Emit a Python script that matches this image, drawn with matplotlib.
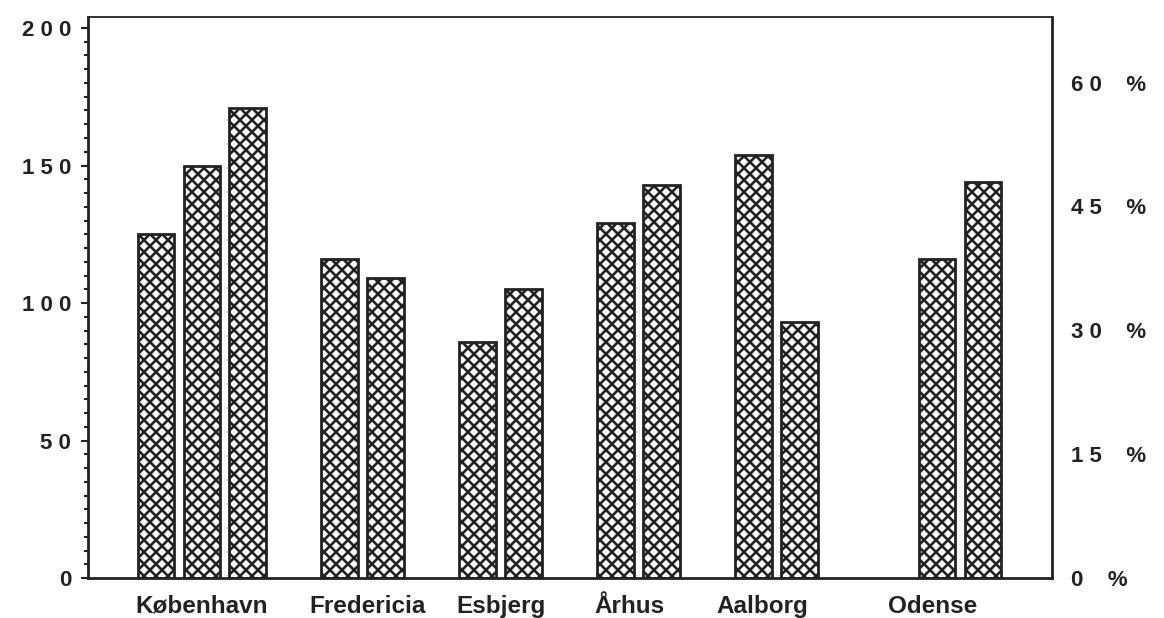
import numpy as np
import matplotlib
matplotlib.use('Agg')
import matplotlib.pyplot as plt

# bar heights, one slot per position (nan = empty slot)
values = [125, 150, 171, np.nan,
          116, 109, np.nan,
          86, 105, np.nan,
          129, 143, np.nan,
          154, 93, np.nan,
          np.nan, 116, 144]
cities = ['København', 'Fredericia', 'Esbjerg', 'Århus', 'Aalborg', 'Odense']
city_pos = [1, 4.6, 7.5, 10.3, 13.2, 16.9]
left_ticks = [0, 50, 100, 150, 200]
left_labels = ['0', '5 0', '1 0 0', '1 5 0', '2 0 0']
right_ticks = [0, 15, 30, 45, 60]
right_labels = ['0    %', '1 5    %', '3 0    %', '4 5    %', '6 0    %']

# draw at 72 dpi so the hatch tile is 72 px (finer cross-hatch); k scales sizes
DPI = 72
k = 100 / 72

plt.rcParams['hatch.linewidth'] = 1.9 * k
plt.rcParams['font.family'] = ['Liberation Sans', 'DejaVu Sans']
ink = '#222222'

fig = plt.figure(figsize=(1164 / DPI, 618 / DPI), dpi=DPI)
ax = fig.add_axes([0.0756, 0.0647, 0.828, 0.9078])

x = np.arange(len(values))
ax.bar(x, values, width=0.8, color='white', edgecolor=ink, hatch='xx', linewidth=2 * k)

ax.set_xlim(-1.48, 19.5)
ax.set_ylim(0, 204)
ax.set_yticks(left_ticks)
ax.set_yticklabels(left_labels, fontsize=16 * k, fontweight='bold', color=ink)
ax.set_yticks(np.arange(0, 205, 5), minor=True)
ax.tick_params(axis='y', which='major', length=5 * k, width=1.5 * k, pad=7 * k, colors=ink)
ax.tick_params(axis='y', which='minor', length=3 * k, width=1.5 * k, colors=ink)
ax.set_xticks(city_pos)
ax.set_xticklabels(cities, fontsize=17.5 * k, fontweight='bold', color=ink)
ax.tick_params(axis='x', length=0, pad=12 * k)
for side in ['left', 'right', 'bottom']:
    ax.spines[side].set_linewidth(2 * k)
    ax.spines[side].set_color(ink)
ax.spines['top'].set_linewidth(1.3 * k)
ax.spines['top'].set_color(ink)

# right-hand percent scale (labels only, no ticks)
ax2 = ax.twinx()
ax2.set_ylim(0.36, 67.95)
ax2.set_yticks(right_ticks)
ax2.set_yticklabels(right_labels, fontsize=16 * k, fontweight='bold', color=ink)
ax2.tick_params(axis='y', length=0, pad=14 * k)
for s in ax2.spines.values():
    s.set_visible(False)

fig.savefig('out.png', dpi=DPI)
